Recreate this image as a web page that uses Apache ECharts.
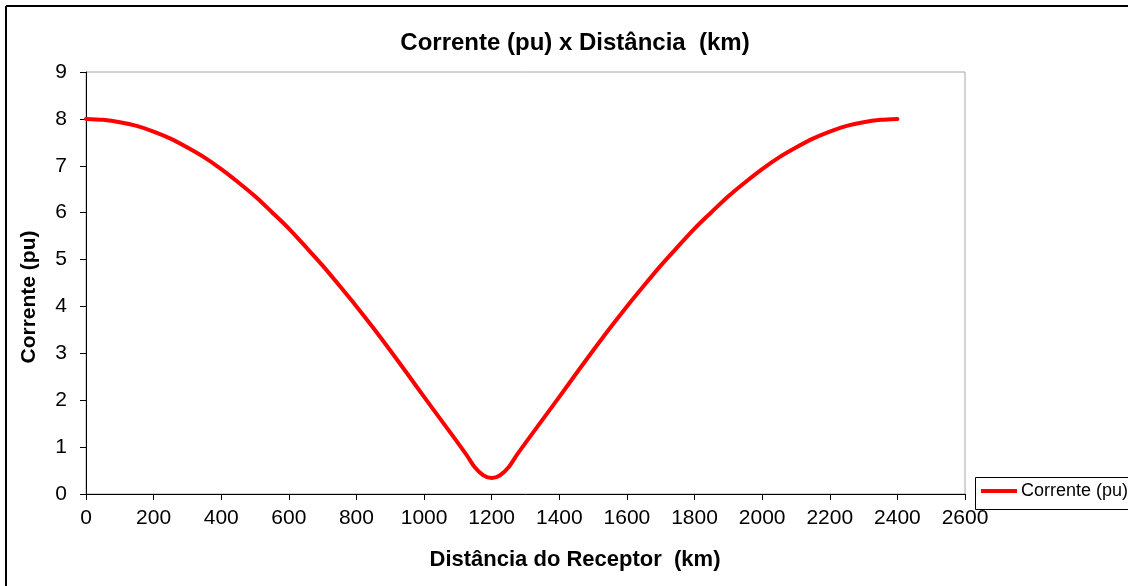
<!DOCTYPE html>
<html>
<head>
<meta charset="utf-8">
<script src="https://cdn.jsdelivr.net/npm/echarts@6/dist/echarts.min.js"></script>
<style>
  html, body { margin: 0; padding: 0; background: #fff; }
  #chart { width: 1128px; height: 586px; }
</style>
</head>
<body>
<div id="chart"></div>
<script>
// Distance from the receiving end (km)
var distanciaKm = [
  0, 50, 100, 150, 200, 250, 300, 350, 400, 450, 500, 550, 600, 650, 700, 750,
  800, 850, 900, 950, 1000, 1050, 1100, 1125, 1150, 1175, 1200, 1225, 1250, 1275,
  1300, 1350, 1400, 1450, 1500, 1550, 1600, 1650, 1700, 1750, 1800, 1850, 1900,
  1950, 2000, 2050, 2100, 2150, 2200, 2250, 2300, 2350, 2400
];
// Current magnitude along the line (pu)
var correntePu = [
  8.00, 7.98, 7.93, 7.85, 7.73, 7.58, 7.39, 7.18, 6.93, 6.65, 6.35, 6.01, 5.66, 5.27, 4.87, 4.44,
  4.00, 3.54, 3.06, 2.57, 2.07, 1.58, 1.09, 0.84, 0.57, 0.40, 0.34, 0.40, 0.57, 0.84,
  1.09, 1.58, 2.07, 2.57, 3.06, 3.54, 4.00, 4.44, 4.87, 5.27, 5.66, 6.01, 6.35,
  6.65, 6.93, 7.18, 7.39, 7.58, 7.73, 7.85, 7.93, 7.98, 8.00
];
var tituloGrafico = 'Corrente (pu) x Distância  (km)';
var nomeEixoX = 'Distância do Receptor  (km)';
var nomeEixoY = 'Corrente (pu)';
var nomeSerie = 'Corrente (pu)';

var FONT = '"Liberation Sans", Arial, Helvetica, sans-serif';

var pontos = distanciaKm.map(function (d, i) { return [d, correntePu[i]]; });

var chart = echarts.init(document.getElementById('chart'), null, { renderer: 'canvas' });

chart.setOption({
  animation: false,
  backgroundColor: '#ffffff',
  grid: {
    left: 86, right: 163, top: 72, bottom: 92,
    show: true, borderColor: '#a6a6a6', borderWidth: 1, backgroundColor: 'transparent'
  },
  xAxis: {
    type: 'value', min: 0, max: 2600, interval: 200,
    axisLine: { show: true, onZero: false, lineStyle: { color: '#000', width: 1 } },
    axisTick: { show: true, inside: false, length: 6, lineStyle: { color: '#000' } },
    axisLabel: { color: '#000', fontSize: 21, fontFamily: FONT, margin: 14,
      formatter: function (v) { return String(v); } },
    splitLine: { show: false }
  },
  yAxis: {
    type: 'value', min: 0, max: 9, interval: 1,
    axisLine: { show: true, onZero: false, lineStyle: { color: '#000', width: 1 } },
    axisTick: { show: true, inside: false, length: 6, lineStyle: { color: '#000' } },
    axisLabel: { color: '#000', fontSize: 21, fontFamily: FONT, margin: 19,
      formatter: function (v) { return String(v); } },
    splitLine: { show: false }
  },
  legend: {
    data: [nomeSerie],
    left: 981, top: 482, padding: 0,
    icon: 'rect', itemWidth: 36, itemHeight: 4, itemGap: 0,
    textStyle: { color: '#000', fontSize: 18, fontFamily: FONT, padding: [0, 0, 0, -1] }
  },
  graphic: [
    // outer chart frame (top and left edges)
    { type: 'line', shape: { x1: 6, y1: 6, x2: 1128, y2: 6 }, style: { stroke: '#000', lineWidth: 2 }, silent: true },
    { type: 'line', shape: { x1: 6, y1: 6, x2: 6, y2: 586 }, style: { stroke: '#000', lineWidth: 2 }, silent: true },
    // legend frame
    { type: 'rect', shape: { x: 975.5, y: 477.5, width: 200, height: 32 }, style: { fill: 'none', stroke: '#000', lineWidth: 1 }, silent: true, z: -1 },
    // title
    { type: 'text', x: 575, y: 43, style: { text: tituloGrafico, fill: '#000', font: 'bold 24px ' + FONT, textAlign: 'center', textVerticalAlign: 'middle' } },
    // axis names
    { type: 'text', x: 575, y: 560, style: { text: nomeEixoX, fill: '#000', font: 'bold 22px ' + FONT, textAlign: 'center', textVerticalAlign: 'middle' } },
    { type: 'text', x: 29, y: 297, rotation: Math.PI / 2, style: { text: nomeEixoY, fill: '#000', font: 'bold 21px ' + FONT, textAlign: 'center', textVerticalAlign: 'middle' } }
  ],
  series: [{
    name: nomeSerie,
    type: 'line',
    data: pontos,
    showSymbol: false,
    smooth: 0.3,
    lineStyle: { color: '#ff0000', width: 4, join: 'round', cap: 'round' },
    itemStyle: { color: '#ff0000' },
    clip: false
  }]
});
</script>
</body>
</html>
